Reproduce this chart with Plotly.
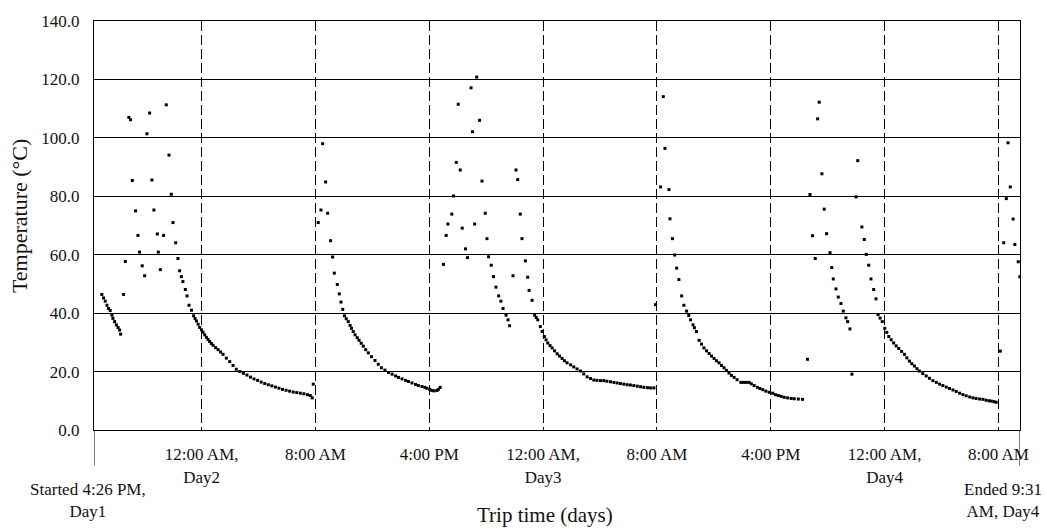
import plotly.graph_objects as go

# ---- data: hours since start (4:26 PM Day1), temperature (°C) ----
start_h = [0.55, 0.67, 0.79, 0.91, 1.02, 1.14, 1.26, 1.33, 1.45, 1.57, 1.69, 1.80, 1.87]
start_t = [46.4, 45.2, 44.1, 42.7, 41.6, 40.9, 39.3, 38.2, 37.1, 36.0, 35.1, 34.2, 32.8]

cyc1_h = [2.08, 2.2, 2.45, 2.57, 2.69, 2.92, 3.09, 3.2, 3.39, 3.56, 3.72, 3.91, 4.07, 4.21, 4.45, 4.52,
          4.66, 4.89, 5.08, 5.27, 5.43, 5.55, 5.74, 5.9,
          6.02, 6.14, 6.25, 6.42, 6.54, 6.68, 6.85, 7.0, 7.1, 7.2, 7.32, 7.43, 7.55, 7.66, 7.78, 7.9,
          8.02, 8.13, 8.25, 8.37, 8.55, 8.72, 8.9, 9.07, 9.3, 9.54, 9.77, 10.0, 10.25, 10.5, 10.75,
          11.0, 11.25, 11.5, 11.75, 12.0, 12.25, 12.5, 12.75, 13.0, 13.25, 13.5, 13.75, 14.0, 14.25,
          14.5, 14.75, 15.0, 15.2, 15.34, 15.41]
cyc1_t = [46.4, 57.7, 107.0, 106.2, 85.4, 75.0, 66.6, 60.9, 56.2, 52.8, 101.4, 108.5, 85.6, 75.3, 67.1, 60.9,
          54.9, 66.6, 111.3, 94.1, 80.7, 71.0, 64.1, 58.7,
          54.5, 52.5, 50.8, 48.1, 45.9, 42.7, 41.0, 39.1, 38.2, 37.3, 36.2, 35.1, 34.3, 33.5, 32.6, 31.7,
          31.0, 30.3, 29.6, 29.0, 28.2, 27.5, 26.7, 25.9, 24.6, 23.4, 22.1, 20.8, 20.0, 19.4, 18.8,
          18.1, 17.5, 17.0, 16.4, 15.9, 15.5, 15.1, 14.7, 14.3, 13.9, 13.6, 13.3, 13.0, 12.8,
          12.6, 12.4, 12.1, 11.8, 11.0, 15.7]

cyc2_h = [15.76, 15.95, 16.07, 16.28, 16.42, 16.63, 16.77, 16.89, 17.1, 17.24, 17.36, 17.48, 17.6, 17.73,
          17.87, 18.0, 18.1, 18.22, 18.35, 18.5, 18.63, 18.78, 18.93, 19.1, 19.28, 19.5, 19.75, 19.98,
          20.2, 20.45, 20.7, 20.95, 21.2, 21.4, 21.65, 21.9, 22.1, 22.35, 22.6, 22.8, 23.05, 23.25,
          23.4, 23.6, 23.75, 23.9, 24.1, 24.2, 24.33]
cyc2_t = [71.0, 75.3, 98.0, 84.9, 74.2, 64.8, 59.2, 53.7, 49.8, 46.6, 43.8, 41.3, 39.1, 38.1,
          37.1, 35.8, 34.8, 33.7, 32.6, 31.6, 30.7, 29.7, 28.7, 27.5, 26.4, 25.1, 23.8, 22.5,
          21.3, 20.5, 19.7, 19.1, 18.5, 18.0, 17.5, 17.0, 16.6, 16.1, 15.6, 15.2, 14.9, 14.6,
          14.3, 13.9, 13.5, 13.4, 13.5, 13.9, 14.6]

cyc3_h = [24.56, 24.75, 24.87, 25.15, 25.27, 25.46, 25.6, 25.74, 25.88, 26.11, 26.25, 26.5, 26.6, 26.75,
          26.9, 27.1, 27.27, 27.5, 27.62, 27.73, 27.92, 28.08, 28.25, 28.44, 28.6, 28.75, 28.96, 29.1,
          29.21, 29.45, 29.66, 29.78, 29.96, 30.08, 30.32, 30.48, 30.58, 30.79, 30.97, 31.08, 31.19,
          31.37, 31.5, 31.65, 31.77, 31.89, 32.05, 32.2, 32.37, 32.55, 32.72, 32.9, 33.07, 33.25, 33.5,
          33.72, 33.95, 34.19, 34.42, 34.66, 34.9, 35.13, 35.35, 35.6, 35.83, 36.05, 36.3, 36.54,
          36.77, 37.0, 37.24, 37.47, 37.7, 37.94, 38.18, 38.42, 38.65, 38.9, 39.12, 39.35]
cyc3_t = [56.7, 66.6, 70.5, 73.9, 80.1, 91.6, 111.5, 89.0, 69.1, 62.0, 59.0, 117.1, 102.1, 70.5,
          120.8, 106.0, 85.2, 74.2, 65.5, 59.3, 56.4, 52.5, 48.9, 45.9, 44.1, 41.6, 39.3, 37.7,
          35.7, 52.8, 89.0, 85.7, 73.9, 65.5, 57.9, 52.3, 47.8, 44.4, 39.3, 38.5, 37.7,
          35.4, 33.7, 32.0, 30.9, 29.8, 28.9, 28.1, 27.1, 26.1, 25.3, 24.5, 23.7, 23.0, 22.3,
          21.6, 20.9, 20.2, 19.2, 18.2, 17.6, 17.1, 17.0, 16.9, 16.9, 16.7, 16.5, 16.3,
          16.1, 15.9, 15.7, 15.5, 15.4, 15.2, 15.0, 14.8, 14.6, 14.5, 14.4, 14.4]

cyc4_h = [39.47, 39.82, 40.01, 40.13, 40.41, 40.48, 40.65, 40.81, 40.95, 41.11, 41.3, 41.46, 41.65, 41.8,
          41.93, 42.1, 42.2, 42.34, 42.53, 42.7, 42.87, 43.05, 43.23, 43.4, 43.58, 43.75, 43.93, 44.1,
          44.28, 44.45, 44.63, 44.8, 44.99, 45.2, 45.46, 45.65, 45.85, 46.04, 46.2, 46.4, 46.63, 46.8,
          47.0, 47.22, 47.45, 47.7, 47.9, 48.1, 48.3, 48.51, 48.75, 49.0, 49.21, 49.5, 49.8]
cyc4_t = [42.9, 83.2, 114.1, 96.4, 82.3, 72.3, 65.5, 59.9, 55.4, 51.5, 45.9, 42.7, 40.7, 39.2,
          37.7, 36.0, 35.0, 33.7, 30.7, 29.4, 28.1, 27.1, 26.2, 25.3, 24.5, 23.7, 23.0, 22.1,
          21.3, 20.4, 19.5, 18.7, 18.0, 17.2, 16.3, 16.3, 16.3, 16.3, 15.8, 15.2, 14.6, 14.2,
          13.8, 13.3, 12.9, 12.6, 12.1, 11.8, 11.5, 11.2, 11.0, 10.8, 10.7, 10.6, 10.5]

cyc5_h = [50.15, 50.32, 50.5, 50.69, 50.86, 50.97, 51.16, 51.32, 51.49, 51.73, 51.85, 51.96, 52.15, 52.31,
          52.5, 52.66, 52.85, 52.97, 53.13, 53.27, 53.56, 53.68, 53.97, 54.14, 54.28, 54.45, 54.61, 54.8,
          54.96, 55.11, 55.25, 55.4, 55.58, 55.72, 55.86, 56.03, 56.2, 56.38, 56.56, 56.76, 56.96, 57.13,
          57.31, 57.48, 57.66, 57.84, 58.01, 58.25, 58.49, 58.72, 58.96, 59.2, 59.43, 59.66, 59.9, 60.13,
          60.37, 60.6, 60.84, 61.07, 61.3, 61.55, 61.78, 62.0, 62.25, 62.48, 62.7, 62.9, 63.06, 63.25, 63.41]
cyc5_t = [24.2, 80.6, 66.5, 58.7, 106.5, 112.2, 87.7, 75.6, 67.2, 60.7, 55.6, 51.7, 48.3, 45.5,
          43.3, 40.7, 38.4, 37.1, 34.6, 19.1, 79.8, 92.2, 69.5, 65.2, 60.1, 56.4, 51.7, 48.1,
          44.9, 39.5, 38.3, 37.1, 34.8, 33.4, 32.0, 30.9, 29.8, 28.8, 27.9, 26.9, 25.9, 24.7,
          23.6, 22.7, 21.9, 21.0, 20.2, 19.3, 18.5, 17.7, 16.9, 16.3, 15.7, 15.2, 14.7, 14.2,
          13.7, 13.2, 12.6, 12.1, 11.7, 11.3, 11.0, 10.8, 10.6, 10.5, 10.2, 10.0, 9.9, 9.7, 9.5]

cyc6_h = [63.7, 63.94, 64.12, 64.24, 64.4, 64.6, 64.72, 64.96, 65.07]
cyc6_t = [27.0, 64.1, 79.2, 98.3, 83.2, 72.2, 63.5, 57.6, 52.5]

trip_end_h = 65.083  # 9:31 AM Day4

tick_hours = [7.567, 15.567, 23.567, 31.567, 39.567, 47.567, 55.567, 63.567]
tick_labels = ["12:00 AM,<br>Day2", "8:00 AM", "4:00 PM", "12:00 AM,<br>Day3",
               "8:00 AM", "4:00 PM", "12:00 AM,<br>Day4", "8:00 AM"]
y_ticks = [0, 20, 40, 60, 80, 100, 120, 140]

all_h = start_h + cyc1_h + cyc2_h + cyc3_h + cyc4_h + cyc5_h + cyc6_h
all_t = start_t + cyc1_t + cyc2_t + cyc3_t + cyc4_t + cyc5_t + cyc6_t

SERIF = "Liberation Serif, Times New Roman, serif"

fig = go.Figure()
fig.add_trace(go.Scatter(
    x=all_h, y=all_t, mode="markers",
    marker=dict(symbol="square", size=3, color="#000000", line=dict(width=0)),
    showlegend=False, hoverinfo="x+y",
))

fig.update_layout(
    width=1047, height=529,
    margin=dict(l=94, r=27, t=15, b=99),
    paper_bgcolor="white", plot_bgcolor="white",
    font=dict(family=SERIF, size=17, color="#111111"),
    showlegend=False,
)

fig.update_xaxes(
    range=[0, trip_end_h],
    tickmode="array", tickvals=tick_hours, ticktext=tick_labels,
    showgrid=True, gridcolor="#000000", gridwidth=1, griddash="10px,4px",
    showline=True, linecolor="#000000", linewidth=1, mirror=True,
    ticks="", ticklabelstandoff=9, zeroline=False,
    tickfont=dict(family=SERIF, size=17, color="#111111"),
)
fig.update_yaxes(
    range=[0, 140],
    tickmode="array", tickvals=y_ticks, tickformat=".1f",
    showgrid=True, gridcolor="#000000", gridwidth=1,
    showline=True, linecolor="#000000", linewidth=1, mirror=True,
    ticks="", ticklabelstandoff=10, zeroline=False,
    tickfont=dict(family=SERIF, size=17, color="#111111"),
)

# extended border lines below the plot at trip start and end
for xv in [0, trip_end_h]:
    fig.add_shape(type="line", xref="x", yref="paper", x0=xv, x1=xv, y0=0, y1=-0.087,
                  line=dict(color="#000000", width=1))

fig.add_annotation(x=0, xref="x", y=0, yref="paper", yshift=-70, xshift=-6,
                   text="Started 4:26 PM,<br>Day1", showarrow=False,
                   xanchor="center", yanchor="middle",
                   font=dict(family=SERIF, size=17, color="#111111"))
fig.add_annotation(x=trip_end_h, xref="x", y=0, yref="paper", yshift=-70, xshift=-17,
                   text="Ended 9:31<br>AM, Day4", showarrow=False,
                   xanchor="center", yanchor="middle",
                   font=dict(family=SERIF, size=17, color="#111111"))
fig.add_annotation(x=0.487, xref="paper", y=0, yref="paper", yshift=-85,
                   text="Trip time (days)", showarrow=False,
                   xanchor="center", yanchor="middle",
                   font=dict(family=SERIF, size=21, color="#111111"))
fig.add_annotation(x=0, xref="paper", y=0.523, yref="paper", xshift=-75,
                   text="Temperature (°C)", showarrow=False, textangle=-90,
                   xanchor="center", yanchor="middle",
                   font=dict(family=SERIF, size=22, color="#111111"))

fig.write_html("out.html")
